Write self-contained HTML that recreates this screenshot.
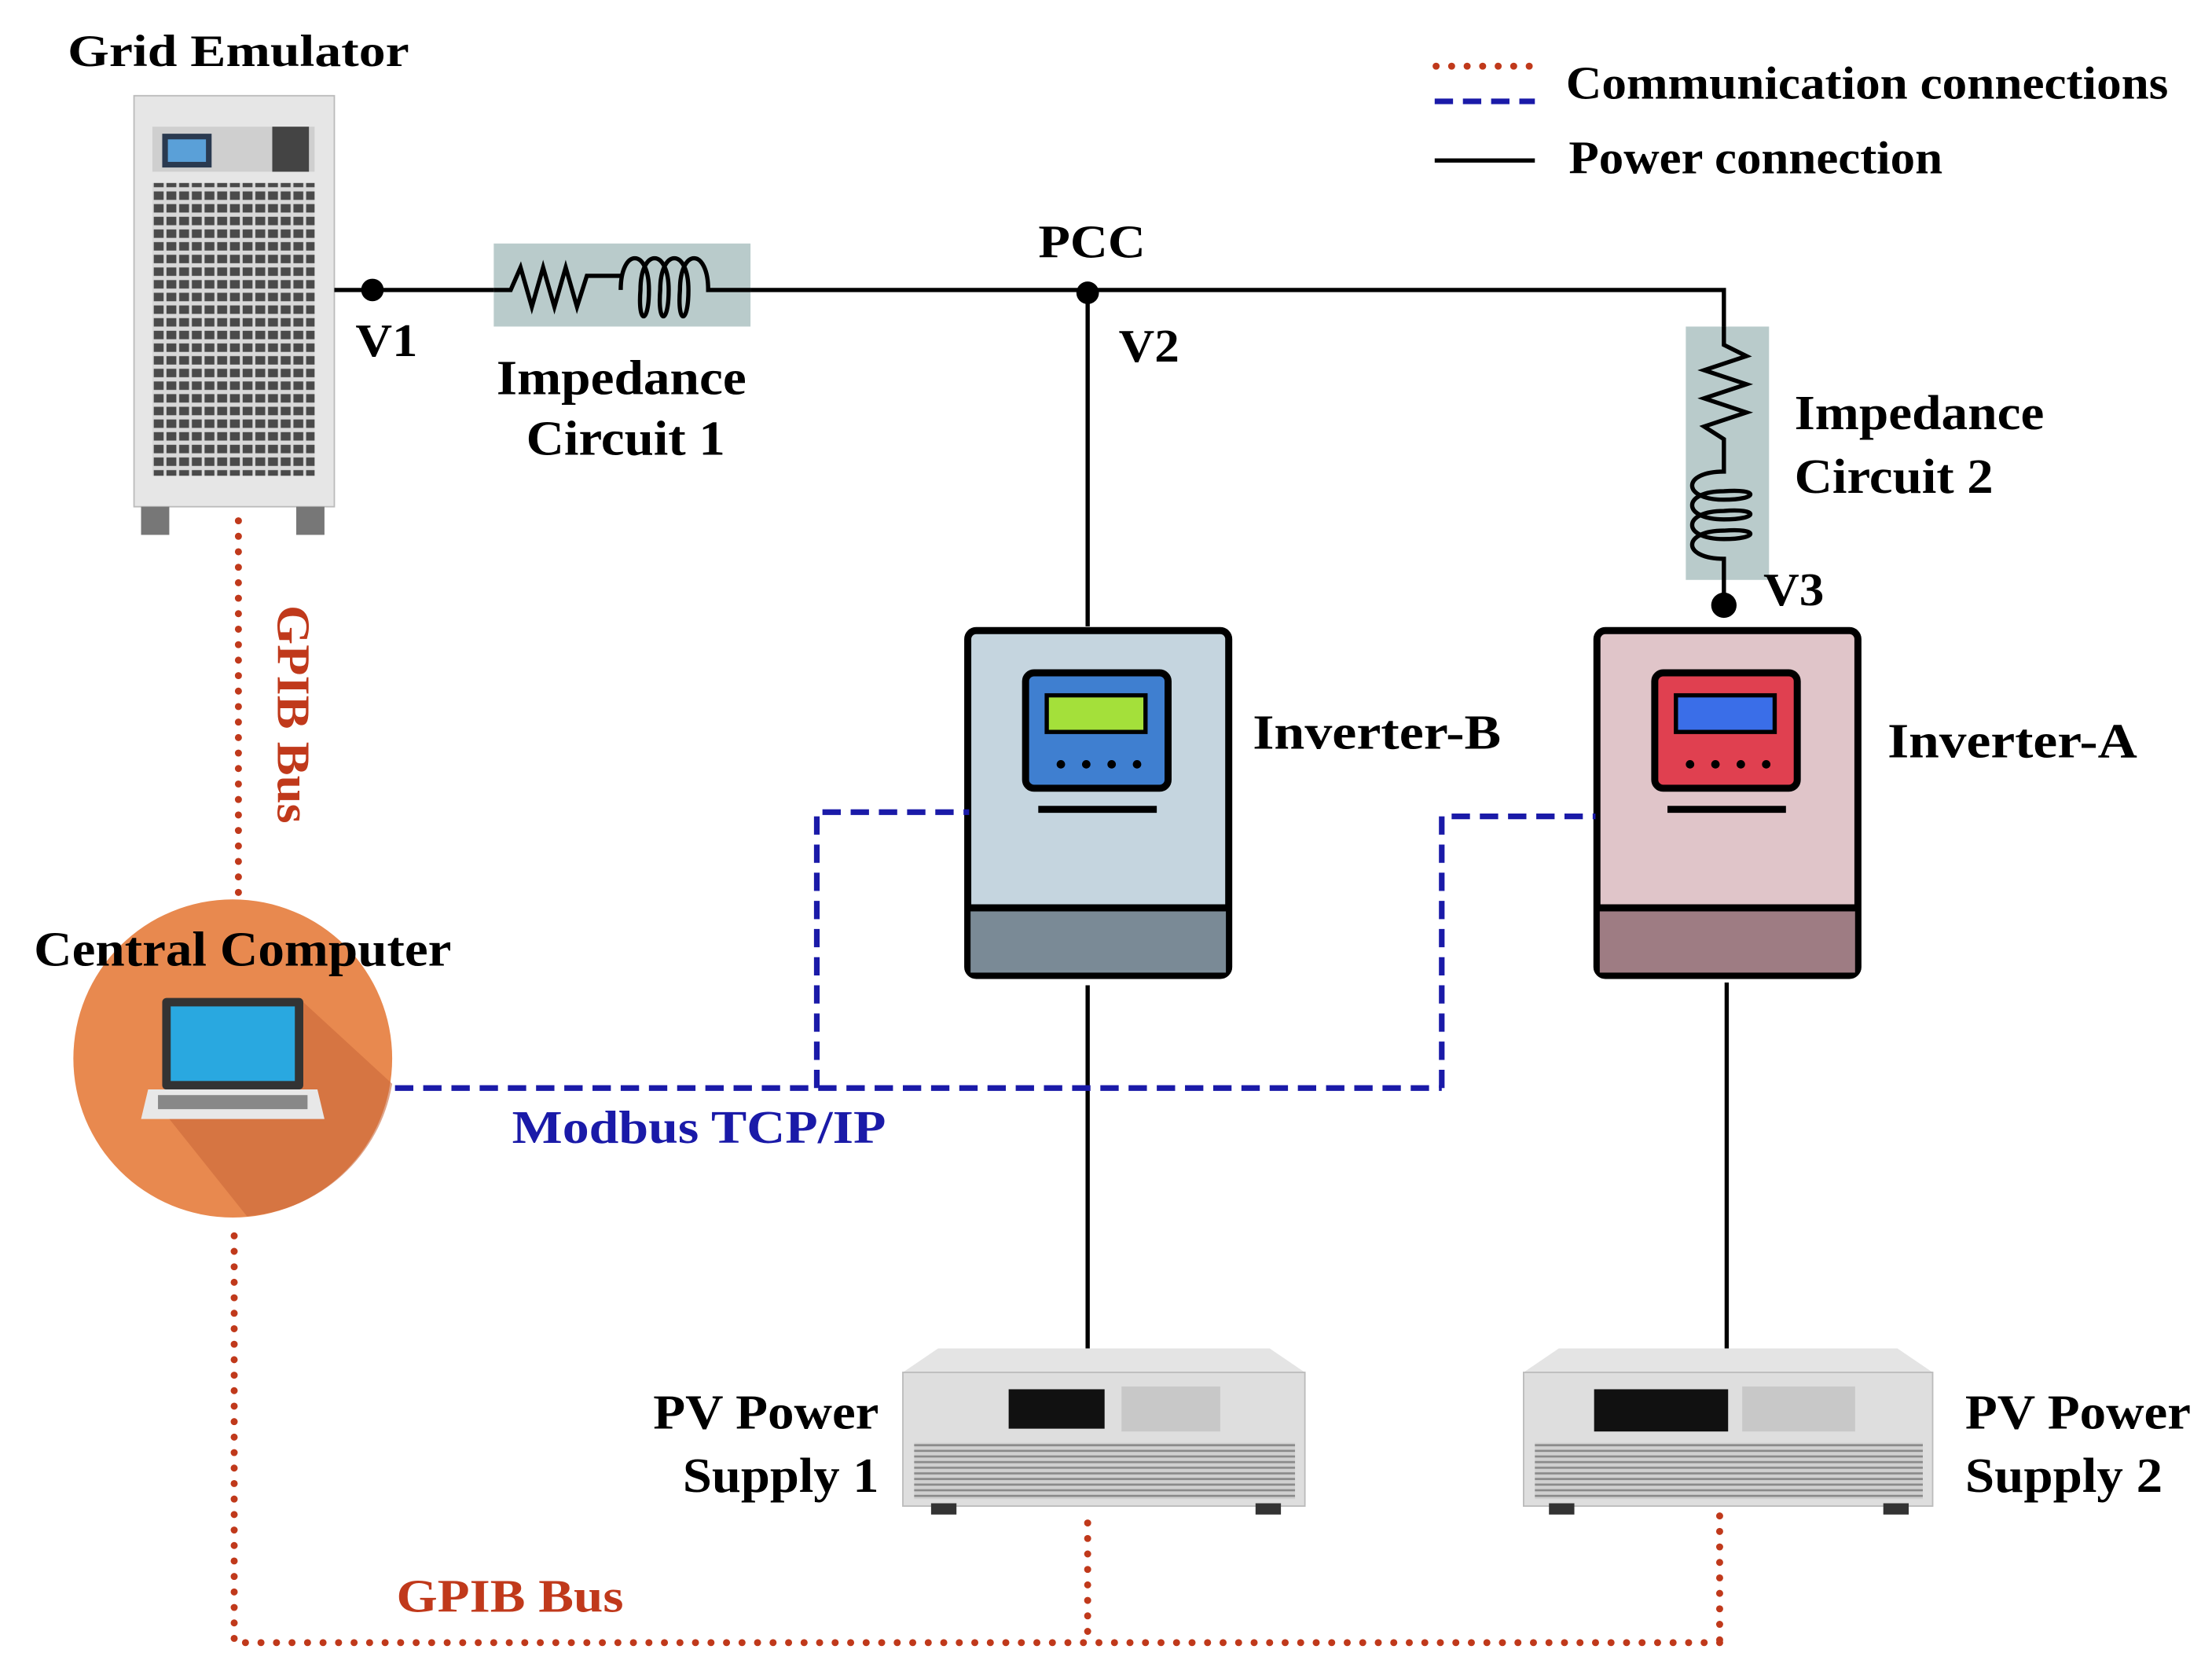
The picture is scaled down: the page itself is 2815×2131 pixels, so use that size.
<!DOCTYPE html>
<html><head><meta charset="utf-8"><style>
html,body{margin:0;padding:0;background:#fff}
svg{display:block}
text{font-family:"Liberation Serif",serif;font-weight:bold}
</style></head><body>
<svg width="2815" height="2131" viewBox="0 0 1568 1190" preserveAspectRatio="none" xmlns="http://www.w3.org/2000/svg">
<defs>
<pattern id="grill" x="0" y="0" width="9" height="9" patternUnits="userSpaceOnUse">
<rect width="9" height="9" fill="#d8d8d8"/><rect x="1" y="1" width="7" height="6" fill="#4a4a4a"/>
</pattern>
<pattern id="vent" x="0" y="0" width="4" height="4" patternUnits="userSpaceOnUse">
<rect width="4" height="4" fill="#d0d0d0"/><rect y="2" width="4" height="1.5" fill="#8a8a8a"/>
</pattern>
</defs>
<!-- Legend -->
<line x1="1018" y1="47" x2="1085" y2="47" stroke="#c0391b" stroke-width="5" stroke-dasharray="0 11" stroke-linecap="round"/>
<line x1="1017" y1="72" x2="1088" y2="72" stroke="#1a1aa8" stroke-width="4" stroke-dasharray="13 7"/>
<line x1="1017" y1="114" x2="1088" y2="114" stroke="#000" stroke-width="3"/>
<text x="1110" y="70" font-size="33" textLength="427" lengthAdjust="spacingAndGlyphs">Communication connections</text>
<text x="1112" y="123" font-size="33" textLength="265" lengthAdjust="spacingAndGlyphs">Power connection</text>

<!-- Grid emulator -->
<text x="48" y="47" font-size="32" textLength="242" lengthAdjust="spacingAndGlyphs">Grid Emulator</text>
<rect x="95" y="68" width="142" height="292" fill="#e6e6e6" stroke="#bbb"/>
<rect x="108" y="90" width="115" height="32" fill="#cfcfcf"/>
<rect x="115" y="95" width="35" height="24" fill="#2a3a50"/><rect x="119" y="99" width="27" height="16" fill="#5aa0d8"/>
<rect x="193" y="90" width="26" height="32" fill="#444"/>
<rect x="108" y="130" width="115" height="208" fill="url(#grill)"/>
<rect x="100" y="360" width="20" height="20" fill="#777"/><rect x="210" y="360" width="20" height="20" fill="#777"/>

<!-- Power lines -->
<polyline points="237,206 1222,206 1222,232" fill="none" stroke="#000" stroke-width="3"/>
<line x1="771" y1="208" x2="771" y2="445" stroke="#000" stroke-width="3"/>
<circle cx="264" cy="206" r="8" fill="#000"/>
<circle cx="771" cy="208" r="8" fill="#000"/>
<!-- Impedance 1 -->
<rect x="350" y="173" width="182" height="59" fill="#b9cbcb"/>
<path d="M350,206 H362 L369,190 L377,218 L385,190 L393,218 L401,190 L409,218 L416,196 H440 M440,206 c0,-30 20,-30 20,0 c0,25 -8,25 -6,0 c0,-30 20,-30 20,0 c0,25 -8,25 -6,0 c0,-30 20,-30 20,0 c0,25 -8,25 -6,0 c0,-30 20,-30 20,0 H532" fill="none" stroke="#000" stroke-width="3"/>
<text x="252" y="253" font-size="33" textLength="44" lengthAdjust="spacingAndGlyphs">V1</text>
<text x="352" y="280" font-size="35" textLength="177" lengthAdjust="spacingAndGlyphs">Impedance</text>
<text x="373" y="323" font-size="35" textLength="141" lengthAdjust="spacingAndGlyphs">Circuit 1</text>
<text x="736" y="183" font-size="33" textLength="76" lengthAdjust="spacingAndGlyphs">PCC</text>
<text x="793" y="257" font-size="33" textLength="43" lengthAdjust="spacingAndGlyphs">V2</text>

<!-- Impedance 2 -->
<rect x="1195" y="232" width="59" height="180" fill="#b9cbcb"/>
<path d="M1222,232 V245 L1238,253 L1208,263 L1238,273 L1208,283 L1238,293 L1208,303 L1222,312 V335 c-30,0 -30,20 0,20 c25,0 25,-8 0,-6 c-30,0 -30,20 0,20 c25,0 25,-8 0,-6 c-30,0 -30,20 0,20 c25,0 25,-8 0,-6 c-30,0 -30,20 0,20 V430" fill="none" stroke="#000" stroke-width="3"/>
<circle cx="1222" cy="430" r="9" fill="#000"/>
<text x="1250" y="430" font-size="33" textLength="43" lengthAdjust="spacingAndGlyphs">V3</text>
<text x="1272" y="305" font-size="35" textLength="177" lengthAdjust="spacingAndGlyphs">Impedance</text>
<text x="1272" y="350" font-size="35" textLength="141" lengthAdjust="spacingAndGlyphs">Circuit 2</text>

<!-- Inverter B -->
<rect x="686" y="448" width="185" height="245" rx="6" fill="#c5d5df" stroke="#000" stroke-width="5"/>
<rect x="688" y="645" width="181" height="46" fill="#7a8a96"/>
<line x1="686" y1="645" x2="871" y2="645" stroke="#000" stroke-width="5"/>
<rect x="727" y="478" width="101" height="82" rx="6" fill="#3f7fd0" stroke="#000" stroke-width="5"/>
<rect x="742" y="494" width="70" height="26" fill="#a4e03a" stroke="#000" stroke-width="3"/>
<circle cx="752" cy="543" r="3" fill="#000"/><circle cx="770" cy="543" r="3" fill="#000"/><circle cx="788" cy="543" r="3" fill="#000"/><circle cx="806" cy="543" r="3" fill="#000"/>
<line x1="736" y1="575" x2="820" y2="575" stroke="#000" stroke-width="5"/>
<text x="888" y="532" font-size="35" textLength="176" lengthAdjust="spacingAndGlyphs">Inverter-B</text>

<!-- Inverter A -->
<rect x="1132" y="448" width="185" height="245" rx="6" fill="#e0c5c9" stroke="#000" stroke-width="5"/>
<rect x="1134" y="645" width="181" height="46" fill="#9e7c83"/>
<line x1="1132" y1="645" x2="1317" y2="645" stroke="#000" stroke-width="5"/>
<rect x="1173" y="478" width="101" height="82" rx="6" fill="#e04050" stroke="#000" stroke-width="5"/>
<rect x="1188" y="494" width="70" height="26" fill="#3a6ee8" stroke="#000" stroke-width="3"/>
<circle cx="1198" cy="543" r="3" fill="#000"/><circle cx="1216" cy="543" r="3" fill="#000"/><circle cx="1234" cy="543" r="3" fill="#000"/><circle cx="1252" cy="543" r="3" fill="#000"/>
<line x1="1182" y1="575" x2="1266" y2="575" stroke="#000" stroke-width="5"/>
<text x="1338" y="538" font-size="35" textLength="177" lengthAdjust="spacingAndGlyphs">Inverter-A</text>

<line x1="771" y1="700" x2="771" y2="958" stroke="#000" stroke-width="3"/>
<line x1="1224" y1="698" x2="1224" y2="958" stroke="#000" stroke-width="3"/>

<!-- PV supplies -->
<g>
<polygon points="640,975 665,958 900,958 925,975" fill="#e4e4e4"/>
<rect x="640" y="975" width="285" height="95" fill="#dedede" stroke="#bbb"/>
<rect x="715" y="987" width="68" height="28" fill="#111"/>
<rect x="795" y="985" width="70" height="32" fill="#c8c8c8"/>
<rect x="648" y="1025" width="270" height="40" fill="url(#vent)"/>
<rect x="660" y="1068" width="18" height="8" fill="#333"/><rect x="890" y="1068" width="18" height="8" fill="#333"/>
</g>
<g>
<polygon points="1080,975 1105,958 1345,958 1370,975" fill="#e4e4e4"/>
<rect x="1080" y="975" width="290" height="95" fill="#dedede" stroke="#bbb"/>
<rect x="1130" y="987" width="95" height="30" fill="#111"/>
<rect x="1235" y="985" width="80" height="32" fill="#c8c8c8"/>
<rect x="1088" y="1025" width="275" height="40" fill="url(#vent)"/>
<rect x="1098" y="1068" width="18" height="8" fill="#333"/><rect x="1335" y="1068" width="18" height="8" fill="#333"/>
</g>
<text x="463" y="1015" font-size="35" textLength="160" lengthAdjust="spacingAndGlyphs">PV Power</text>
<text x="484" y="1060" font-size="35" textLength="139" lengthAdjust="spacingAndGlyphs">Supply 1</text>
<text x="1393" y="1015" font-size="35" textLength="160" lengthAdjust="spacingAndGlyphs">PV Power</text>
<text x="1393" y="1060" font-size="35" textLength="140" lengthAdjust="spacingAndGlyphs">Supply 2</text>

<!-- Communication lines -->
<g stroke="#1a1aa8" stroke-width="4" stroke-dasharray="13 7" fill="none">
<polyline points="280,773 1022,773"/>
<polyline points="579,773 579,577 687,577"/>
<polyline points="1022,773 1022,580 1131,580"/>
</g>
<g stroke="#c0391b" stroke-width="5" stroke-dasharray="0 11" stroke-linecap="round" fill="none">
<line x1="169" y1="370" x2="169" y2="635"/>
<polyline points="166,878 166,1167 1220,1167"/>
<line x1="771" y1="1082" x2="771" y2="1167"/>
<line x1="1219" y1="1077" x2="1219" y2="1167"/>
</g>
<text transform="translate(197,430) rotate(90)" font-size="33" fill="#c0391b" textLength="155" lengthAdjust="spacingAndGlyphs">GPIB Bus</text>
<text x="281" y="1145" font-size="33" fill="#c0391b" textLength="161" lengthAdjust="spacingAndGlyphs">GPIB Bus</text>
<text x="363" y="812" font-size="33" fill="#1a1aa8" textLength="265" lengthAdjust="spacingAndGlyphs">Modbus TCP/IP</text>

<!-- Central computer -->
<circle cx="165" cy="752" r="113" fill="#e8894f"/>
<path d="M215,712 L278,770 A113,113 0 0 1 175,864 L120,795 Z" fill="#c9683a" opacity="0.6"/>
<rect x="115" y="709" width="100" height="65" rx="3" fill="#333"/>
<rect x="121" y="715" width="88" height="53" fill="#29a8e0"/>
<polygon points="105,774 225,774 230,795 100,795" fill="#e8e8e8"/>
<rect x="112" y="778" width="106" height="10" fill="#888"/>
<text x="24" y="686" font-size="35" textLength="296" lengthAdjust="spacingAndGlyphs">Central Computer</text>
</svg>
</body></html>
